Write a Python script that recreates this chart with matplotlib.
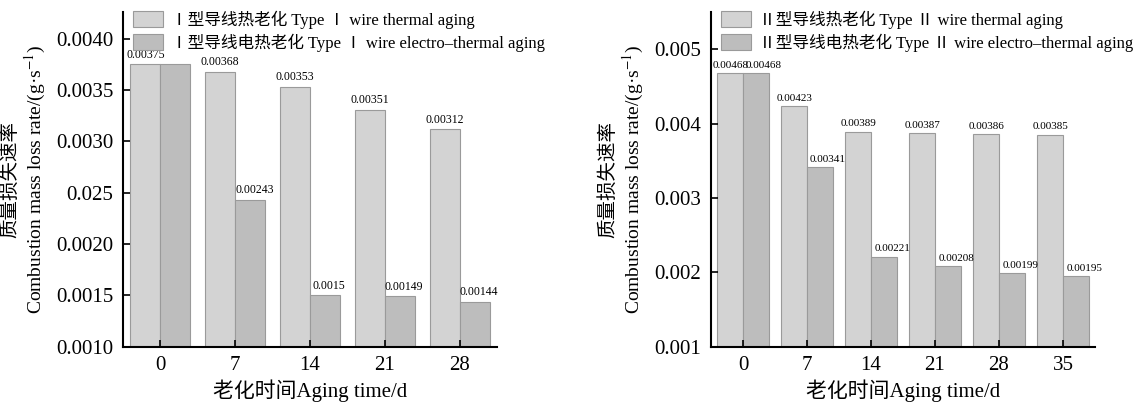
import matplotlib
matplotlib.use('Agg')
import matplotlib.pyplot as plt
import numpy as np

plt.rcParams['font.family'] = ['Liberation Serif', 'Noto Sans CJK SC', 'DejaVu Serif']
plt.rcParams['mathtext.fontset'] = 'stix'

# left panel: type I wire
days_1 = ['0', '7', '14', '21', '28']
thermal_1 = [0.00375, 0.00368, 0.00353, 0.00331, 0.00312]
electro_1 = [0.00375, 0.00243, 0.00150, 0.00149, 0.00144]
thermal_1_txt = ['0.00375', '0.00368', '0.00353', '0.00351', '0.00312']
electro_1_txt = [None, '0.00243', '0.0015', '0.00149', '0.00144']
yticks_1 = [0.0010, 0.0015, 0.0020, 0.0025, 0.0030, 0.0035, 0.0040]
yticklabels_1 = ['0.0010', '0.0015', '0.0020', '0.025', '0.0030', '0.0035', '0.0040']

# right panel: type II wire
days_2 = ['0', '7', '14', '21', '28', '35']
thermal_2 = [0.00468, 0.00423, 0.00389, 0.00387, 0.00386, 0.00385]
electro_2 = [0.00468, 0.00341, 0.00221, 0.00208, 0.00199, 0.00195]
thermal_2_txt = ['0.00468', '0.00423', '0.00389', '0.00387', '0.00386', '0.00385']
electro_2_txt = ['0.00468', '0.00341', '0.00221', '0.00208', '0.00199', '0.00195']
yticks_2 = [0.001, 0.002, 0.003, 0.004, 0.005]
yticklabels_2 = ['0.001', '0.002', '0.003', '0.004', '0.005']

c_th = '#d3d3d3'
c_el = '#bdbdbd'
c_edge = '#9a9a9a'

fig = plt.figure(figsize=(11.46, 4.04), dpi=100)
ax1 = fig.add_axes([0.1073, 0.1418, 0.3264, 0.8285])
ax2 = fig.add_axes([0.6204, 0.1418, 0.3351, 0.8285])


def draw(ax, days, th, el, th_txt, el_txt, yt, ytl, ylim, roman, fs, dx):
    x = np.arange(len(days))
    w = 0.4
    ax.bar(x - w/2, np.array(th) - ylim[0], w, bottom=ylim[0], color=c_th,
           edgecolor=c_edge, linewidth=0.8,
           label=roman + '型导线热老化 Type ' + roman + ' wire thermal aging')
    ax.bar(x + w/2, np.array(el) - ylim[0], w, bottom=ylim[0], color=c_el,
           edgecolor=c_edge, linewidth=0.8,
           label=roman + '型导线电热老化 Type ' + roman + ' wire electro\u2013thermal aging')
    for xi, v, t in zip(x - w/2, th, th_txt):
        if t:
            ax.annotate(t, (xi, v), xytext=(0, 2.5), textcoords='offset points',
                        ha='center', va='bottom', fontsize=fs)
    for xi, v, t in zip(x + w/2, el, el_txt):
        if t:
            ax.annotate(t, (xi, v), xytext=(dx, 2.5), textcoords='offset points',
                        ha='center', va='bottom', fontsize=fs)
    ax.set_xlim(-0.5, len(days) - 0.5)
    ax.set_ylim(*ylim)
    ax.set_xticks(x)
    ax.set_xticklabels(days, fontsize=15)
    ax.set_yticks(yt)
    ax.set_yticklabels(ytl, fontsize=15)
    ax.tick_params(direction='in', length=5, width=1.2, pad=7)
    for s in ['top', 'right']:
        ax.spines[s].set_visible(False)
    for s in ['left', 'bottom']:
        ax.spines[s].set_linewidth(1.5)
    ax.set_xlabel('老化时间Aging time/d', fontsize=15, labelpad=3)
    ax.set_ylabel('质量损失速率\nCombustion mass loss rate/(g·s$^{-1}$)',
                  fontsize=14, labelpad=6, linespacing=1.2)
    ax.legend(loc='upper left', bbox_to_anchor=(0.0, 1.035), frameon=False,
              fontsize=12, handlelength=1.8, handleheight=1.1,
              labelspacing=0.3, handletextpad=0.5, borderaxespad=0.2)


draw(ax1, days_1, thermal_1, electro_1, thermal_1_txt, electro_1_txt,
     yticks_1, yticklabels_1, (0.0010, 0.00426), 'Ⅰ', 8.5, 3)
draw(ax2, days_2, thermal_2, electro_2, thermal_2_txt, electro_2_txt,
     yticks_2, yticklabels_2, (0.001, 0.0055), 'Ⅱ', 8, 6)

fig.savefig('out.png', dpi=100)
